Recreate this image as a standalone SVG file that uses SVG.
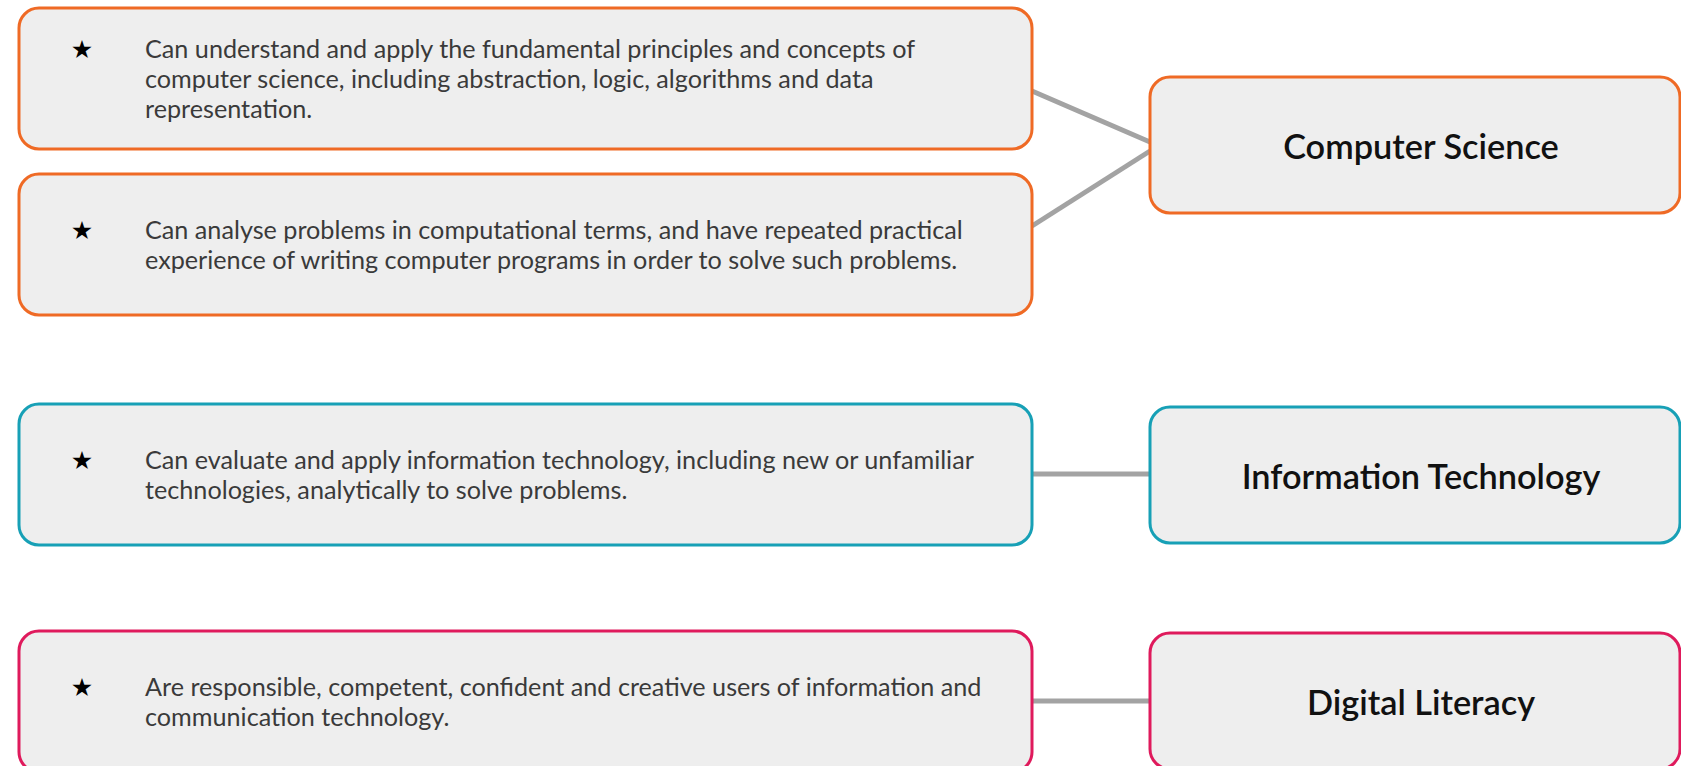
<svg xmlns="http://www.w3.org/2000/svg" width="1681" height="766" viewBox="0 0 1681 766">
<style>
.box{fill:#eeeeee;stroke-width:3}
.cs{stroke:#ef6a25}
.it{stroke:#17a0b6}
.dl{stroke:#df1a5c}
.body{font-family:Lato,"Liberation Sans",sans-serif;font-size:25.2px;fill:#3a3a3a}
.star{font-family:"DejaVu Sans",sans-serif;font-size:25px;fill:#000;text-anchor:middle}
.head{font-family:Lato,"Liberation Sans",sans-serif;font-size:34.3px;font-weight:600;fill:#111;text-anchor:middle}
.conn{stroke:#a3a3a3;stroke-width:5;fill:none}
</style>
<rect width="1681" height="766" fill="#ffffff"/>
<g id="connectors">
<line class="conn" x1="1032" y1="91" x2="1150" y2="142"/>
<line class="conn" x1="1032" y1="226" x2="1150" y2="151"/>
<line class="conn" x1="1032" y1="474" x2="1150" y2="474"/>
<line class="conn" x1="1032" y1="701" x2="1150" y2="701"/>
</g>
<g id="cs1">
<rect class="box cs" x="19" y="8" width="1013" height="141" rx="20"/>
<text class="star" x="82" y="58">★</text>
<text class="body" x="145" y="58">Can understand and apply the fundamental principles and concepts of</text>
<text class="body" x="145" y="88">computer science, including abstraction, logic, algorithms and data</text>
<text class="body" x="145" y="118">representation.</text>
</g>
<g id="cs2">
<rect class="box cs" x="19" y="174" width="1013" height="141" rx="20"/>
<text class="star" x="82" y="239">★</text>
<text class="body" x="145" y="239">Can analyse problems in computational terms, and have repeated practical</text>
<text class="body" x="145" y="269">experience of writing computer programs in order to solve such problems.</text>
</g>
<g id="it1">
<rect class="box it" x="19" y="404" width="1013" height="141" rx="20"/>
<text class="star" x="82" y="469">★</text>
<text class="body" x="145" y="469">Can evaluate and apply information technology, including new or unfamiliar</text>
<text class="body" x="145" y="499">technologies, analytically to solve problems.</text>
</g>
<g id="dl1">
<rect class="box dl" x="19" y="631" width="1013" height="141" rx="20"/>
<text class="star" x="82" y="696">★</text>
<text class="body" x="145" y="696">Are responsible, competent, confident and creative users of information and</text>
<text class="body" x="145" y="726">communication technology.</text>
</g>
<g id="computer-science">
<rect class="box cs" x="1150" y="77" width="530" height="136" rx="20"/>
<text class="head" x="1421" y="159">Computer Science</text>
</g>
<g id="information-technology">
<rect class="box it" x="1150" y="407" width="530" height="136" rx="20"/>
<text class="head" x="1421" y="489">Information Technology</text>
</g>
<g id="digital-literacy">
<rect class="box dl" x="1150" y="633" width="530" height="136" rx="20"/>
<text class="head" x="1421" y="715">Digital Literacy</text>
</g>
</svg>
